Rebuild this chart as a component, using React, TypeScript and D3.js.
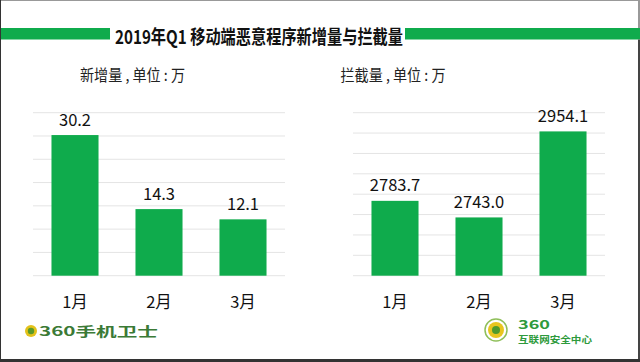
import React from 'react';
import * as d3 from 'd3';

// 2019 Q1 data
const months = ['1月', '2月', '3月'];
const newCount = [30.2, 14.3, 12.1];
const blockCount = [2783.7, 2743.0, 2954.1];
const newTicks = [0, 5, 10, 15, 20, 25, 30, 35];
const blockTicks = [2600, 2650, 2700, 2750, 2800, 2850, 2900, 2950, 3000];

const GREEN = '#0fab4c';
const FONT = '"Noto Sans CJK SC", "Noto Sans", sans-serif';

const W = 640;
const H = 362;
const top = 112.7;
const base = 275.7;

const Panel = ({ x0, subX, subtitle, values, ticks, fmt }) => {
  const x = d3.scaleBand().domain(months).range([x0, x0 + 252]).paddingInner(0.44).paddingOuter(0.22);
  const y = d3.scaleLinear().domain([ticks[0], ticks[ticks.length - 1]]).range([base, top]);
  return (
    <g>
      <text x={subX - 52.5} y={80.5} fontSize={15.5} fill="#222" fontFamily={FONT} textLength={105} lengthAdjust="spacingAndGlyphs">
        {subtitle}
      </text>
      {ticks.map((t) => (
        <line key={t} x1={x0} x2={x0 + 252} y1={y(t)} y2={y(t)} stroke="#e4e4e4" strokeWidth={1} />
      ))}
      {values.map((v, i) => (
        <g key={months[i]}>
          <rect x={x(months[i])} y={y(v)} width={x.bandwidth()} height={y(ticks[0]) - y(v)} fill={GREEN} />
          <text x={x(months[i]) + x.bandwidth() / 2} y={y(v) - 9.5} textAnchor="middle" fontSize={16.5} fill="#111" fontFamily={FONT}>
            {fmt(v)}
          </text>
          <text x={x(months[i]) + x.bandwidth() / 2} y={307.5} textAnchor="middle" fontSize={16.5} fill="#111" fontFamily={FONT}>
            {months[i]}
          </text>
        </g>
      ))}
    </g>
  );
};

export default function App() {
  return (
    <svg width={W} height={H} style={{ position: 'absolute', left: 0, top: 0, background: '#fff' }}>
      <rect x={0} y={0} width={W} height={H} fill="#fff" />
      {/* title with green bands */}
      <rect x={0} y={28} width={110} height={11.5} fill={GREEN} />
      <rect x={405} y={28} width={235} height={11.5} fill={GREEN} />
      <text x={115} y={43.5} fontSize={19} fontWeight="bold" fill="#111" fontFamily={FONT} textLength={288} lengthAdjust="spacingAndGlyphs">
        2019年Q1 移动端恶意程序新增量与拦截量
      </text>

      <Panel x0={33} subX={132.5} subtitle="新增量 , 单位 : 万" values={newCount} ticks={newTicks} fmt={(v) => v.toFixed(1)} />
      <Panel x0={353} subX={393} subtitle="拦截量 , 单位 : 万" values={blockCount} ticks={blockTicks} fmt={(v) => v.toFixed(1)} />

      {/* 360 mobile guard logo */}
      <circle cx={31} cy={331} r={6} fill="#e3c21a" />
      <circle cx={31} cy={331} r={3.2} fill="#5a9a2a" />
      <text x={39} y={336} fontSize={13} fill="#3b7a36" fontFamily={FONT} fontWeight="bold" textLength={119} lengthAdjust="spacingAndGlyphs">
        360手机卫士
      </text>

      {/* 360 internet security center logo */}
      <circle cx={496} cy={330} r={11} fill="none" stroke="#8fbf5a" strokeWidth={1.5} />
      <circle cx={496} cy={330} r={8} fill="#e8c51f" />
      <circle cx={496} cy={330} r={4} fill="#4f9a2c" />
      <text x={518} y={329} fontSize={12} fill="#2e9a3c" fontFamily={FONT} fontWeight="bold" textLength={32} lengthAdjust="spacingAndGlyphs">
        360
      </text>
      <text x={518} y={343} fontSize={9.5} fill="#2e9a3c" fontFamily={FONT} fontWeight="bold" textLength={74} lengthAdjust="spacingAndGlyphs">
        互联网安全中心
      </text>

      {/* frame */}
      <line x1={0} x2={W} y1={0.5} y2={0.5} stroke="#999" strokeWidth={1} />
      <line x1={0.5} x2={0.5} y1={0} y2={H} stroke="#333" strokeWidth={1} />
      <line x1={639} x2={639} y1={0} y2={28} stroke="#999" strokeWidth={2} />
      <line x1={639} x2={639} y1={39.5} y2={H} stroke="#444" strokeWidth={2} />
      <line x1={0} x2={W} y1={360.5} y2={360.5} stroke="#333" strokeWidth={3} />
    </svg>
  );
}
